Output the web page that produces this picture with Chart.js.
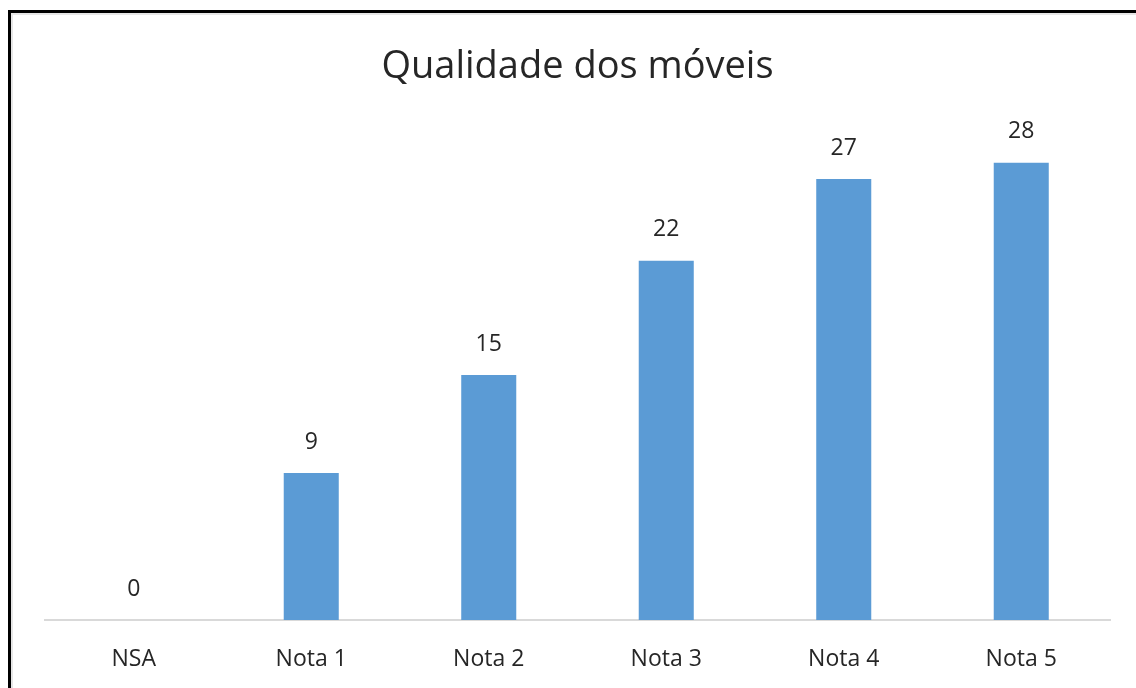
<!DOCTYPE html>
<html>
<head>
<meta charset="utf-8">
<script src="https://cdn.jsdelivr.net/npm/chart.js@4"></script>
<style>
  html, body { margin: 0; padding: 0; background: #fff; overflow: hidden; }
  #frame {
    position: absolute; left: 8px; top: 10px; width: 1200px; height: 800px;
    border-left: 3px solid #000; border-top: 3px solid #000;
    box-shadow: inset 2px 2px 0 #e6e6e6;
  }
  #wrap { position: absolute; left: 0; top: 0; width: 1136px; height: 688px; }
</style>
</head>
<body>
<div id="frame"></div>
<div id="wrap"><canvas id="chart" width="1136" height="688"></canvas></div>
<script>
const categories = ["NSA", "Nota 1", "Nota 2", "Nota 3", "Nota 4", "Nota 5"];
const values = [0, 9, 15, 22, 27, 28];
const chartTitle = "Qualidade dos móveis";

const FONT = "'Open Sans', 'DejaVu Sans', sans-serif";
const TEXT_COLOR = "#262626";

// draws the value above each bar (like excel data labels)
const valueLabels = {
    id: "valueLabels",
    afterDatasetsDraw(chart) {
        const ctx = chart.ctx;
        const meta = chart.getDatasetMeta(0);
        ctx.save();
        ctx.font = "23px " + FONT;
        ctx.fillStyle = TEXT_COLOR;
        ctx.textAlign = "center";
        ctx.textBaseline = "middle";
        meta.data.forEach((bar, i) => {
            ctx.fillText(String(values[i]), bar.x, bar.y - 31);
        });
        ctx.restore();
    }
};

new Chart(document.getElementById("chart").getContext("2d"), {
    type: "bar",
    data: {
        labels: categories,
        datasets: [{
            data: values,
            backgroundColor: "#5b9bd5",
            categoryPercentage: 1,
            barPercentage: 0.31
        }]
    },
    options: {
        responsive: false,
        animation: false,
        layout: { padding: { left: 45, right: 26, top: 0, bottom: 18 } },
        plugins: {
            legend: { display: false },
            tooltip: { enabled: false },
            title: {
                display: true,
                text: chartTitle,
                color: TEXT_COLOR,
                font: { family: FONT, size: 38, weight: "normal", lineHeight: 1.2 },
                padding: { top: 44, bottom: 40.4 }
            }
        },
        scales: {
            x: {
                grid: { display: false, drawTicks: false },
                border: { display: true, color: "#d9d9d9", width: 2 },
                ticks: {
                    color: TEXT_COLOR,
                    padding: 26,
                    font: { family: FONT, size: 23, lineHeight: 1.2 }
                },
                afterFit(scale) {
                    scale.height = 50;
                }
            },
            y: {
                display: false,
                min: 0,
                max: 30
            }
        }
    },
    plugins: [valueLabels]
});
</script>
</body>
</html>
